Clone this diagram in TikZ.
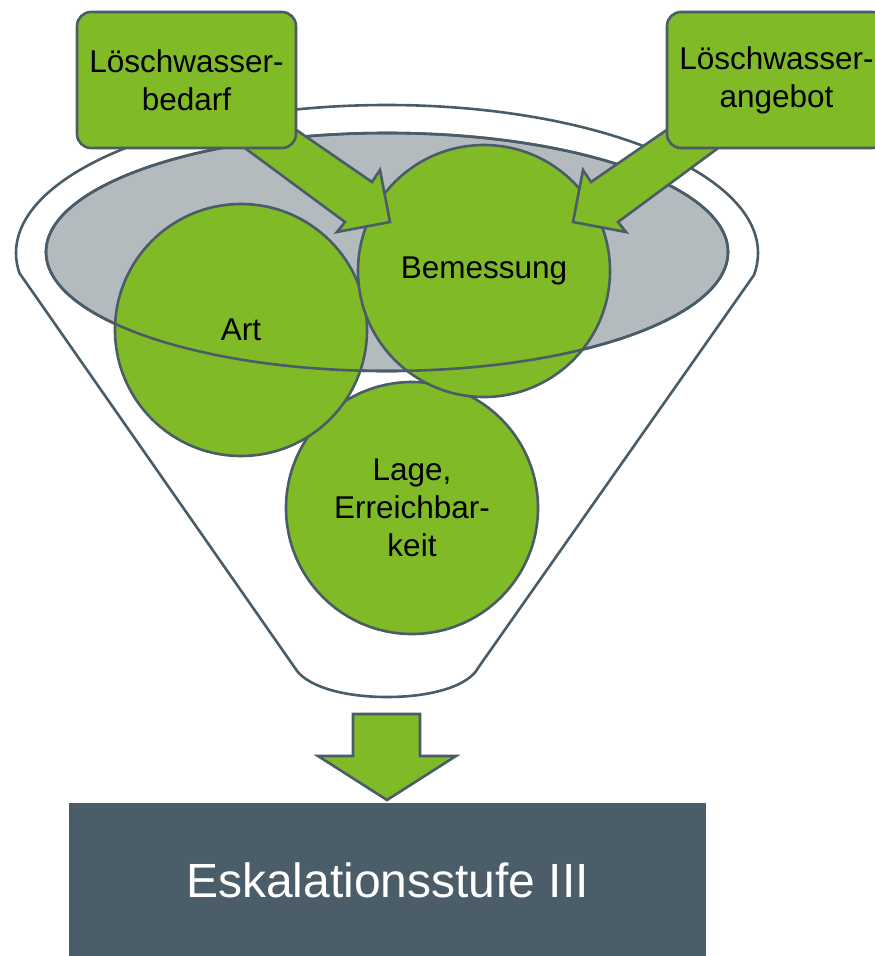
\documentclass[tikz,border=0pt]{standalone}
\usepackage{fontspec}
\setmainfont{Liberation Sans}
\usetikzlibrary{shapes.geometric}
\definecolor{leaf}{RGB}{128,186,39}
\definecolor{slate}{RGB}{74,92,104}
\definecolor{bowlgray}{RGB}{180,187,191}
\definecolor{darkbox}{RGB}{74,93,104}

\begin{document}
\begin{tikzpicture}[x=1pt,y=-1pt,
  edge/.style={draw=slate,line width=2.6pt,line join=round},
  ball/.style={circle,edge,fill=leaf,minimum size=252pt,inner sep=0pt,
    align=center,font=\fontsize{31.5}{38}\selectfont},
  inbox/.style={edge,fill=leaf,rounded corners=14pt,minimum width=219pt,
    minimum height=136pt,inner sep=0pt,align=center,
    font=\fontsize{31.5}{38}\selectfont},
  blockarrow/.style={edge,fill=leaf,line join=miter}]
\useasboundingbox (0,0) rectangle (875,956);

% funnel body
\draw[edge,fill=white] (19.4,273)
  .. controls (17.2,266.5) and (16,259.8) .. (16,253)
  .. controls (16,171.3) and (182.1,105) .. (387,105)
  .. controls (591.9,105) and (758,171.3) .. (758,253)
  .. controls (758,260.5) and (756.6,268) .. (754,275)
  -- (478,668)
  .. controls (469,685) and (434,697) .. (387,697)
  .. controls (340,697) and (305,685) .. (295,668)
  -- cycle;

% grey opening of the funnel
\node[ellipse,edge,fill=bowlgray,minimum width=682pt,minimum height=238pt,
  inner sep=0pt] (bowl) at (387,252) {};

% the three criteria
\node[ball] (lage) at (412,508) {Lage,\\Erreichbar-\\keit};
\node[ball] (art) at (241,330) {Art};
\node[ball] (bem) at (484,271) {Bemessung};

% rim of the opening, on top of the circles
\draw[edge] (bowl.center) ellipse[x radius=341pt,y radius=119pt];

% block arrows from the inputs
\draw[blockarrow] (260,105) -- (372,182) -- (380,170) -- (390,222)
  -- (337,232) -- (345,222) -- (215,126) -- cycle;
\draw[blockarrow] (703,105) -- (591,182) -- (583,170) -- (573,222)
  -- (626,232) -- (618,222) -- (748,126) -- cycle;

% inputs
\node[inbox] (bedarf) at (186.5,80) {Löschwasser-\\bedarf};
\node[inbox] (angebot) at (776.5,80) {Löschwasser-\\angebot};

% output arrow and result
\draw[blockarrow] (353,714) -- (420,714) -- (420,756) -- (456,756)
  -- (387,800) -- (318,756) -- (353,756) -- cycle;
\node[fill=darkbox,minimum width=637pt,minimum height=154pt,inner sep=0pt,
  text=white,font=\fontsize{48}{58}\selectfont] (stufe) at (387.5,880)
  {Eskalationsstufe III};
\end{tikzpicture}
\end{document}
